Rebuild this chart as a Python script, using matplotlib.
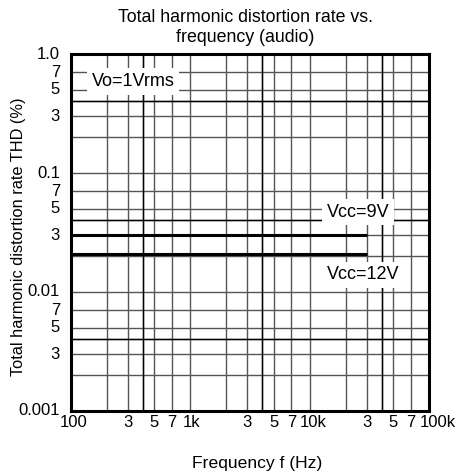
import numpy as np
import matplotlib
matplotlib.use("Agg")
from matplotlib import pyplot as plt
from matplotlib.ticker import FixedLocator, NullFormatter
from matplotlib.transforms import ScaledTranslation

plt.rcParams['font.family'] = ['Liberation Sans', 'DejaVu Sans']

# THD (%) vs frequency, flat curves from 100 Hz to 30 kHz
freq = [100, 30000]
thd_9v = [0.03, 0.03]
thd_12v = [0.021, 0.021]

x_major = [100, 300, 500, 700, 1000, 3000, 5000, 7000, 10000,
           30000, 50000, 70000, 100000]
x_labels = ['100', '3', '5', '7', '1k', '3', '5', '7', '10k',
            '3', '5', '7', '100k']
y_major = [0.001, 0.003, 0.005, 0.007, 0.01, 0.03, 0.05, 0.07,
           0.1, 0.3, 0.5, 0.7, 1.0]
y_labels = ['0.001', '3', '5', '7', '0.01', '3', '5', '7',
            '0.1', '3', '5', '7', '1.0']
x_minor = [200, 400, 2000, 4000, 20000, 40000]
y_minor = [0.002, 0.004, 0.02, 0.04, 0.2, 0.4]

fig = plt.figure(figsize=(4.58, 4.74), dpi=100)
ax = fig.add_axes([0.155, 0.133, 0.782, 0.753])
ax.set_xscale('log')
ax.set_yscale('log')
ax.set_xlim(100, 100000)
ax.set_ylim(0.001, 1.0)

ax.xaxis.set_major_locator(FixedLocator(x_major))
ax.xaxis.set_minor_locator(FixedLocator(x_minor))
ax.yaxis.set_major_locator(FixedLocator(y_major))
ax.yaxis.set_minor_locator(FixedLocator(y_minor))
ax.set_xticklabels(x_labels)
ax.set_yticklabels(y_labels)
ax.xaxis.set_minor_formatter(NullFormatter())
ax.yaxis.set_minor_formatter(NullFormatter())
ax.tick_params(which='both', length=0, labelsize=12)
ax.tick_params(axis='x', pad=3)
ax.tick_params(axis='y', pad=8)
for lbl in ax.get_yticklabels():
    lbl.set_verticalalignment('center')

# decade labels sit a little right of their lines
shifts = {'100': 3, '1k': 1, '10k': 3, '100k': 9}
for lbl in ax.get_xticklabels():
    dx = shifts.get(lbl.get_text(), 0)
    if dx:
        lbl.set_transform(lbl.get_transform() +
                          ScaledTranslation(dx / 100, 0, fig.dpi_scale_trans))

ax.grid(which='both', color='#555555', lw=1.0)
# the "4" lines are drawn darker
for v in x_minor:
    if str(v)[0] == '4':
        ax.axvline(v, color='black', lw=1.0, zorder=0.6)
for v in y_minor:
    if str(v).rstrip('0')[-1] == '4':
        ax.axhline(v, color='black', lw=1.0, zorder=0.6)
ax.set_axisbelow(True)

for s in ax.spines.values():
    s.set_linewidth(2.2)

ax.plot(freq, thd_9v, color='black', lw=2.2, solid_capstyle='butt')
ax.plot(freq, thd_12v, color='black', lw=2.2, solid_capstyle='butt')

box = dict(facecolor='white', edgecolor='none', pad=3.5)
ax.text(330, 0.59, 'Vo=1Vrms', fontsize=13, ha='center', va='center', bbox=box)
ax.text(25500, 0.047, 'Vcc=9V', fontsize=13, ha='center', va='center', bbox=box)
ax.text(28000, 0.0139, 'Vcc=12V', fontsize=13, ha='center', va='center', bbox=box)

fig.text(0.535, 0.942, 'Total harmonic distortion rate vs.\nfrequency (audio)',
         ha='center', va='center', fontsize=12.8, linespacing=1.2)
fig.text(0.562, 0.023, 'Frequency f (Hz)', ha='center', va='center', fontsize=12.6)
fig.text(0.04, 0.5, 'Total harmonic distortion rate THD (%)', ha='center',
         va='center', rotation=90, fontsize=11.8)

fig.savefig('out.png', dpi=100)
